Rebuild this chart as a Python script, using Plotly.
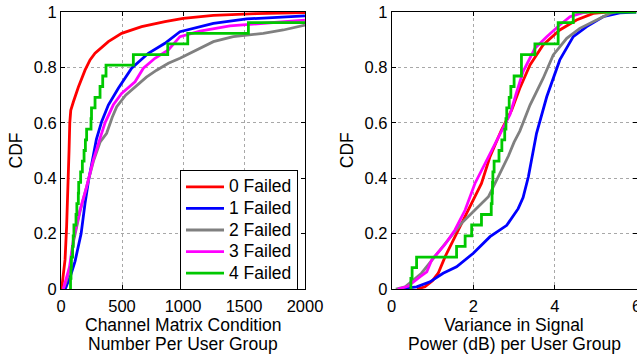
import plotly.graph_objects as go

W, H = 637, 354

names = ["0 Failed", "1 Failed", "2 Failed", "3 Failed", "4 Failed"]
colors = ["#ff0000", "#0000ff", "#808080", "#ff00ff", "#00c800"]

# ---- Left panel: channel matrix condition number CDF ----
cond_red_x = [5, 20, 33, 46, 55, 60, 66, 72, 80, 101, 142, 197, 238, 279, 388, 497, 661, 852, 1002, 1249, 1600, 2000]
cond_red_y = [0, 0.05, 0.105, 0.225, 0.32, 0.405, 0.5, 0.6, 0.645, 0.675, 0.728, 0.79, 0.827, 0.851, 0.893, 0.923, 0.947, 0.965, 0.977, 0.988, 0.994, 0.998]

cond_blue_x = [35, 80, 115, 142, 165, 197, 225, 260, 290, 333, 388, 470, 579, 716, 852, 975, 1249, 1522, 2000]
cond_blue_y = [0, 0.05, 0.1, 0.155, 0.2, 0.309, 0.39, 0.47, 0.54, 0.604, 0.664, 0.725, 0.797, 0.851, 0.887, 0.929, 0.959, 0.975, 0.986]

cond_gray_x = [19, 45, 75, 105, 156, 210, 265, 320, 374, 420, 457, 530, 607, 700, 784, 880, 975, 1085, 1249, 1412, 1658, 1822, 2000]
cond_gray_y = [0, 0.03, 0.08, 0.177, 0.28, 0.365, 0.46, 0.53, 0.562, 0.62, 0.658, 0.7, 0.73, 0.765, 0.79, 0.815, 0.833, 0.857, 0.893, 0.911, 0.923, 0.935, 0.953]

cond_mag_x = [19, 40, 70, 101, 156, 210, 265, 320, 361, 429, 497, 607, 675, 770, 880, 975, 1139, 1385, 1658, 2000]
cond_mag_y = [0, 0.03, 0.08, 0.177, 0.285, 0.369, 0.466, 0.544, 0.6, 0.665, 0.706, 0.748, 0.797, 0.833, 0.863, 0.911, 0.931, 0.95, 0.959, 0.971]

cond_green_x = [78, 78, 82, 85, 95, 100, 106, 123, 130, 142, 145, 161, 175, 189, 200, 210, 246, 250, 279, 320, 342, 369, 593, 875, 1039, 1536, 2000]
cond_green_y = [0, 0.038, 0.077, 0.115, 0.154, 0.192, 0.231, 0.269, 0.308, 0.346, 0.385, 0.423, 0.462, 0.5, 0.538, 0.577, 0.615, 0.654, 0.692, 0.731, 0.769, 0.808, 0.846, 0.885, 0.923, 0.962, 0.962]

# ---- Right panel: variance in signal power CDF ----
var_red_x = [0.62, 0.815, 1.0, 1.14, 1.31, 1.55, 1.88, 2.2, 2.41, 2.69, 2.94, 3.14, 3.39, 3.71, 4.12, 4.53, 4.94, 5.27]
var_red_y = [0, 0.008, 0.03, 0.057, 0.117, 0.189, 0.285, 0.381, 0.478, 0.574, 0.646, 0.725, 0.809, 0.881, 0.935, 0.971, 0.995, 1.0]

var_blue_x = [0.2, 0.61, 0.94, 1.26, 1.59, 2.0, 2.41, 2.82, 3.1, 3.22, 3.35, 3.55, 3.8, 4.12, 4.45, 4.78, 5.18, 5.59, 6.0]
var_blue_y = [0, 0.008, 0.026, 0.057, 0.08, 0.129, 0.189, 0.23, 0.29, 0.33, 0.405, 0.562, 0.694, 0.827, 0.911, 0.947, 0.983, 0.997, 1.0]

var_gray_x = [0.1, 0.33, 0.73, 1.06, 1.39, 1.71, 2.04, 2.37, 2.61, 2.86, 3.0, 3.14, 3.39, 3.71, 3.96, 4.29, 4.61, 5.02, 5.35, 5.5]
var_gray_y = [0, 0.008, 0.057, 0.117, 0.177, 0.237, 0.285, 0.333, 0.405, 0.48, 0.53, 0.57, 0.664, 0.76, 0.845, 0.905, 0.941, 0.971, 0.995, 1.0]

var_mag_x = [0.15, 0.4, 0.69, 0.86, 0.98, 1.1, 1.3, 1.55, 1.8, 2.04, 2.29, 2.53, 2.78, 2.9, 3.06, 3.22, 3.51, 3.8, 4.12, 4.37, 4.69, 4.8]
var_mag_y = [0, 0.01, 0.044, 0.062, 0.105, 0.125, 0.16, 0.213, 0.285, 0.381, 0.454, 0.526, 0.6, 0.63, 0.71, 0.785, 0.869, 0.911, 0.953, 0.983, 0.998, 1.0]

var_green_x = [0.47, 0.47, 0.50, 0.61, 1.59, 1.80, 1.96, 2.20, 2.44, 2.46, 2.47, 2.48, 2.51, 2.63, 2.70, 2.77, 2.80, 2.82, 2.88, 2.92, 3.0, 3.18, 3.18, 3.51, 4.08, 4.08, 4.45, 6.0]
var_green_y = [0, 0.038, 0.077, 0.115, 0.154, 0.192, 0.231, 0.269, 0.308, 0.346, 0.385, 0.423, 0.462, 0.5, 0.538, 0.577, 0.615, 0.654, 0.692, 0.731, 0.769, 0.808, 0.846, 0.885, 0.923, 0.962, 1.0, 1.0]

left_series = [(cond_red_x, cond_red_y), (cond_blue_x, cond_blue_y), (cond_gray_x, cond_gray_y),
               (cond_mag_x, cond_mag_y), (cond_green_x, cond_green_y)]
right_series = [(var_red_x, var_red_y), (var_blue_x, var_blue_y), (var_gray_x, var_gray_y),
                (var_mag_x, var_mag_y), (var_green_x, var_green_y)]

FONT = "Liberation Sans, Arial, Helvetica, sans-serif"
fig = go.Figure()

for i, (xs, ys) in enumerate(left_series):
    fig.add_trace(go.Scatter(
        x=xs, y=ys, mode="lines",
        name='<span style="font-size:17.5px">' + names[i] + '</span>',
        line=dict(color=colors[i], width=2.8, shape="hv" if i == 4 else "linear"),
        xaxis="x", yaxis="y", showlegend=True))
for i, (xs, ys) in enumerate(right_series):
    fig.add_trace(go.Scatter(
        x=xs, y=ys, mode="lines", name=names[i],
        line=dict(color=colors[i], width=2.8, shape="hv" if i == 4 else "linear"),
        xaxis="x2", yaxis="y2", showlegend=False))

ML, MR, MT, MB = 0, 0, 12, 65
pw = W - ML - MR
ph = H - MT - MB

def px2x(p):
    return (p - ML) / pw

def py2y(p):
    return (H - MB - p) / ph

axis_common = dict(
    showline=True, linecolor="black", linewidth=1, mirror="ticks",
    ticks="inside", ticklen=4, tickcolor="black", tickwidth=1,
    showgrid=True, gridcolor="#a8a8a8", griddash="dot", gridwidth=1,
    zeroline=False, automargin=False, ticklabeloverflow="allow",
    tickfont=dict(family=FONT, size=16.5, color="black"),
)

fig.update_layout(
    width=W, height=H,
    margin=dict(l=ML, r=MR, t=MT, b=MB, autoexpand=False),
    paper_bgcolor="white", plot_bgcolor="white",
    xaxis=dict(domain=[px2x(61), px2x(305)], range=[0, 2000], tickvals=[0, 500, 1000, 1500, 2000],
               anchor="y", ticklabelstandoff=2, **axis_common),
    yaxis=dict(domain=[0, 1], range=[0, 1], tickvals=[0, 0.2, 0.4, 0.6, 0.8, 1],
               ticktext=["0", "0.2", "0.4", "0.6", "0.8", "1"], anchor="x", **axis_common),
    xaxis2=dict(domain=[px2x(391.7), px2x(636.5)], range=[0, 6], tickvals=[0, 2, 4, 6],
                anchor="y2", ticklabelstandoff=2, **axis_common),
    yaxis2=dict(domain=[0, 1], range=[0, 1], tickvals=[0, 0.2, 0.4, 0.6, 0.8, 1],
                ticktext=["0", "0.2", "0.4", "0.6", "0.8", "1"], anchor="x2", **axis_common),
    legend=dict(x=px2x(180), y=py2y(170), xanchor="left", yanchor="top",
                bordercolor="black", borderwidth=1, bgcolor="white", itemwidth=38,
                font=dict(family=FONT, size=14.3, color="black"), tracegroupgap=0),
    showlegend=True,
)

title_font = dict(family=FONT, size=17.5, color="black")
annots = [
    ("CDF", 15, 150.5, -90),
    ("CDF", 346.7, 150.5, -90),
    ("Channel Matrix Condition", 183, 324.5, 0),
    ("Number Per User Group", 183, 344.3, 0),
    ("Variance in Signal", 514.2, 324.5, 0),
    ("Power (dB) per User Group", 514.2, 344.3, 0),
]
for text, x, y, ang in annots:
    fig.add_annotation(text=text, x=px2x(x), y=py2y(y), xref="paper", yref="paper",
                       xanchor="center", yanchor="middle", showarrow=False,
                       textangle=ang, font=title_font)

fig.write_html("out.html")
